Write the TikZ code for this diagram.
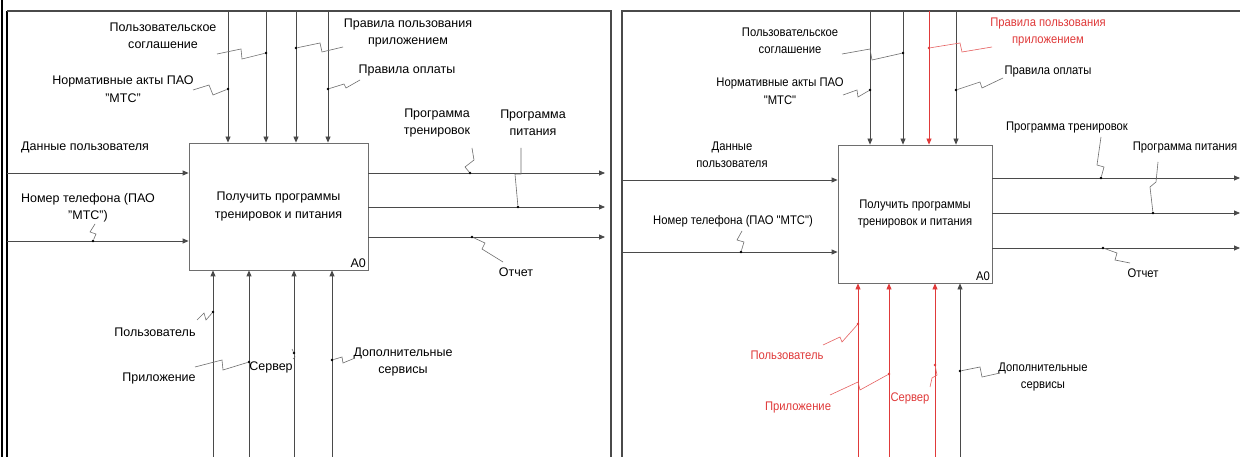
\documentclass[tikz,border=0pt]{standalone}
\usepackage{fontspec}
\setmainfont{Liberation Sans}
\newfontfamily\rfont{Liberation Sans}[FakeStretch=0.9]
\usetikzlibrary{arrows.meta}
\definecolor{ln}{HTML}{4A4A4A}
\definecolor{rd}{HTML}{E03A3A}
\tikzset{
  ln/.style={draw=ln, line width=0.8pt},
  arr/.style={ln, -{Triangle[length=6pt,width=5pt]}},
  rarr/.style={draw=rd, line width=0.8pt, -{Triangle[length=6pt,width=5pt]}, rd},
  sq/.style={draw=ln!80, line width=0.6pt},
  rsq/.style={draw=rd!80, line width=0.6pt},
  lbl/.style={font=\fontsize{12.5}{17.5}\selectfont, align=center, inner sep=0pt, text=black},
  lblr/.style={font=\rfont\fontsize{12.5}{17.5}\selectfont, align=center, inner sep=0pt, text=black},
  rlbl/.style={lblr, text=rd},
  fr/.style={draw=ln, line width=1.3pt},
  box/.style={draw=ln!80, line width=0.8pt, fill=white, inner sep=0pt, font=\fontsize{12.5}{17.5}\selectfont, align=center},
  boxr/.style={box, font=\rfont\fontsize{12.5}{17.5}\selectfont},
  dot/.style={circle, fill=black, inner sep=0pt, minimum size=2.6pt},
  rdot/.style={circle, fill=rd, inner sep=0pt, minimum size=2.6pt}
}
\begin{document}
\begin{tikzpicture}[x=1pt,y=-1pt]
\useasboundingbox (0,0) rectangle (1240,457);
\fill[white] (0,0) rectangle (1240,457);
% ---------- frames ----------
\draw[black, line width=2.2pt] (1.6,0) -- (1.6,457);
\draw[black, line width=1.3pt] (7,11) -- (7,457);
\draw[fr] (7,11) -- (611,11) -- (611,457);
\draw[fr] (622,457) -- (622,11) -- (1240,11);

% =================== LEFT PANEL ===================
\node[box, minimum width=179pt, minimum height=127pt] (LA) at (278.5,206.5) {Получить программы\\тренировок и питания};
\node[lbl, anchor=south east] (LA0) at (366,268) {A0};
% controls
\coordinate (lc1) at (228,11); \coordinate (lc2) at (266,11);
\coordinate (lc3) at (296,11); \coordinate (lc4) at (328,11);
\foreach \c in {lc1,lc2,lc3,lc4} \draw[arr] (\c) -- (\c |- LA.north);
% inputs
\coordinate (li1) at (7,173); \coordinate (li2) at (7,241);
\foreach \c in {li1,li2} \draw[arr] (\c) -- (\c -| LA.west);
% outputs
\coordinate (lo1) at (605,173); \coordinate (lo2) at (605,207); \coordinate (lo3) at (605,237);
\foreach \c in {lo1,lo2,lo3} \draw[arr] (\c -| LA.east) -- (\c);
% mechanisms
\coordinate (lm1) at (213,457); \coordinate (lm2) at (249,457);
\coordinate (lm3) at (294,457); \coordinate (lm4) at (332,457);
\foreach \c in {lm1,lm2,lm3,lm4} \draw[arr] (\c) -- (\c |- LA.south);
% labels
\node[lbl] (ltA) at (163,36) {Пользовательское\\соглашение};
\node[lbl] (ltB) at (123,89) {Нормативные акты ПАО\\"МТС"};
\node[lbl] (ltC) at (408,33) {Правила пользования\\приложением};
\node[lbl] (ltD) at (407,70) {Правила оплаты};
\node[lbl, anchor=west] (ltE) at (21,147) {Данные пользователя};
\node[lbl] (ltF) at (88,208) {Номер телефона (ПАО\\"МТС")};
\node[lbl] (ltG) at (437,123) {Программа\\тренировок};
\node[lbl] (ltH) at (533,123) {Программа\\питания};
\node[lbl] (ltI) at (516,272) {Отчет};
\node[lbl] (ltJ) at (155,332) {Пользователь};
\node[lbl] (ltK) at (159,378) {Приложение};
\node[lbl] (ltL) at (271,367) {Сервер};
\node[lbl] (ltM) at (403,362) {Дополнительные\\сервисы};
% squiggles and dots
\node[dot] (ldA) at (266,53) {};
\draw[sq] (217,54) -- (241,49) -- (242,59) -- (ldA);
\node[dot] (ldB) at (228,89) {};
\draw[sq] (193,90) -- (209,85) -- (213,95) -- (ldB);
\node[dot] (ldC) at (296,48) {};
\draw[sq] (ldC) -- (320,43) -- (322,52) -- (343,47);
\node[dot] (ldD) at (328,89) {};
\draw[sq] (ldD) -- (344,84) -- (346,88) -- (360,80);
\node[dot] (ldF) at (93,241) {};
\draw[sq] (ldF) -- (96,234) -- (90,232) -- (95,224);
\node[dot] (ldG) at (470,173) {};
\draw[sq] (ldG) -- (465,167) -- (474,160) -- (472,148);
\node[dot] (ldH) at (518,207) {};
\draw[sq] (521,148) -- (521,174) -- (515,174) -- (ldH);
\node[dot] (ldI) at (472,237) {};
\draw[sq] (ldI) -- (485,243) -- (482,249) -- (503,262);
\node[dot] (ldJ) at (213,312) {};
\draw[sq] (197,320) -- (204,313) -- (206,320) -- (ldJ);
\node[dot] (ldK) at (249,362) {};
\draw[sq] (195,367) -- (222,360) -- (223,370) -- (ldK);
\node[dot] (ldL) at (294,353) {};
\draw[sq] (ldL) -- (292,349);
\draw[sq] (ldL) -- (295,357) -- (293,359);
\node[dot] (ldM) at (332,360) {};
\draw[sq] (ldM) -- (342,357) -- (343,363) -- (355,358);

% =================== RIGHT PANEL ===================
\node[boxr, minimum width=154pt, minimum height=138pt] (RA) at (915,214) {Получить программы\\тренировок и питания};
\node[lblr, anchor=south east] (RA0) at (990,281) {A0};
% controls
\coordinate (rc1) at (870,11); \coordinate (rc2) at (903,11);
\coordinate (rc3) at (929,11); \coordinate (rc4) at (956,11);
\foreach \c in {rc1,rc2,rc4} \draw[arr] (\c) -- (\c |- RA.north);
\draw[rarr] (rc3) -- (rc3 |- RA.north);
% inputs
\coordinate (ri1) at (622,180); \coordinate (ri2) at (622,252);
\foreach \c in {ri1,ri2} \draw[arr] (\c) -- (\c -| RA.west);
% outputs
\coordinate (ro1) at (1240,178); \coordinate (ro2) at (1240,213); \coordinate (ro3) at (1240,248);
\foreach \c in {ro1,ro2,ro3} \draw[arr] (\c -| RA.east) -- (\c);
% mechanisms
\coordinate (rm1) at (858,457); \coordinate (rm2) at (889,457);
\coordinate (rm3) at (935,457); \coordinate (rm4) at (960,457);
\foreach \c in {rm1,rm2,rm3} \draw[rarr] (\c) -- (\c |- RA.south);
\draw[arr] (rm4) -- (rm4 |- RA.south);
% labels
\node[lblr] (rtA) at (790,41) {Пользовательское\\соглашение};
\node[lblr] (rtB) at (780,91) {Нормативные акты ПАО\\"МТС"};
\node[rlbl] (rtC) at (1048,32) {Правила пользования\\приложением};
\node[lblr] (rtD) at (1048,71) {Правила оплаты};
\node[lblr] (rtE) at (732,155) {Данные\\пользователя};
\node[lblr] (rtF) at (733,221) {Номер телефона (ПАО "МТС")};
\node[lblr] (rtG) at (1067,127) {Программа тренировок};
\node[lblr] (rtH) at (1185,147) {Программа питания};
\node[lblr] (rtI) at (1143,273) {Отчет};
\node[rlbl] (rtJ) at (787,355) {Пользователь};
\node[rlbl] (rtK) at (798,407) {Приложение};
\node[rlbl] (rtL) at (910,398) {Сервер};
\node[lblr] (rtM) at (1043,377) {Дополнительные\\сервисы};
% squiggles and dots
\node[dot] (rdA) at (903,53) {};
\draw[sq] (842,54) -- (870,49) -- (872,60) -- (rdA);
\node[dot] (rdB) at (870,90) {};
\draw[sq] (843,95) -- (857,90) -- (858,97) -- (rdB);
\node[rdot] (rdC) at (929,48) {};
\draw[rsq] (rdC) -- (960,43) -- (962,52) -- (992,47);
\node[dot] (rdD) at (956,90) {};
\draw[sq] (rdD) -- (980,82) -- (982,88) -- (1003,78);
\node[dot] (rdF) at (741,252) {};
\draw[sq] (rdF) -- (744,242) -- (737,240) -- (742,231);
\node[dot] (rdG) at (1101,178) {};
\draw[sq] (rdG) -- (1104,167) -- (1097,165) -- (1101,137);
\node[dot] (rdH) at (1153,213) {};
\draw[sq] (1158,162) -- (1156,182) -- (1150,187) -- (rdH);
\node[dot] (rdI) at (1103,248) {};
\draw[sq] (rdI) -- (1117,253) -- (1115,260) -- (1130,263);
\node[rdot] (rdJ) at (858,324) {};
\draw[rsq] (823,345) -- (840,337) -- (842,342) -- (rdJ);
\node[rdot] (rdK) at (889,374) {};
\draw[rsq] (830,395) -- (858,382) -- (860,390) -- (rdK);
\node[rdot] (rdL) at (935,365) {};
\draw[rsq] (rdL) -- (937,375) -- (932,378) -- (930,387);
\node[dot] (rdM) at (960,371) {};
\draw[sq] (rdM) -- (980,367) -- (982,377) -- (1000,373);
\end{tikzpicture}
\end{document}
